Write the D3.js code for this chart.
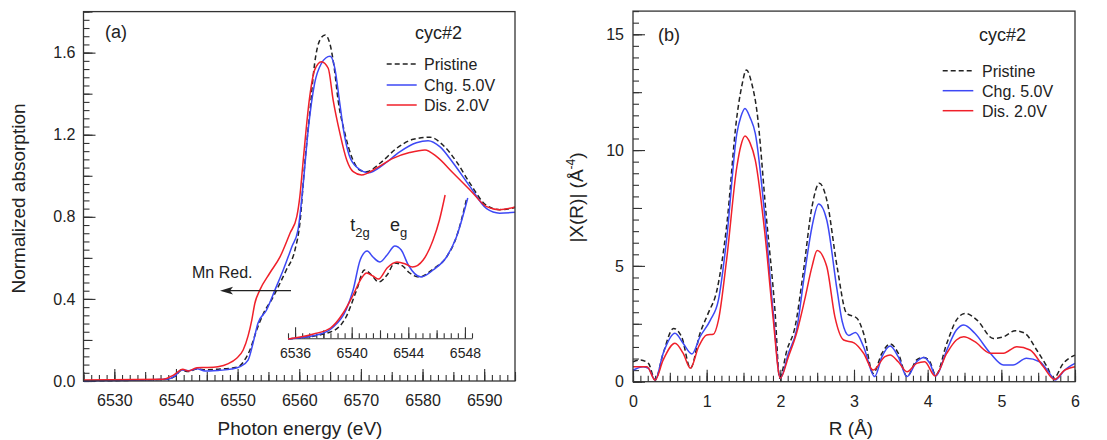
<!DOCTYPE html>
<html lang="en">
<head>
<meta charset="utf-8">
<title>XANES / EXAFS cyc#2</title>
<script src="https://d3js.org/d3.v7.min.js"></script>
<style>
  body { margin: 0; background: #fff; }
  svg { font-family: "Liberation Sans", Arial, sans-serif; }
  .tick text { fill: #222; }
  .tick line { stroke: #333; stroke-width: 1.1; }
</style>
</head>
<body>
<script>
// ---- data (a) Mn K-edge XANES: [photon energy eV, normalized absorption]
const xanesPristine = [[6525,0.0],[6538.5,0.008],[6539.8,0.022],[6540.9,0.052],[6542.0,0.046],[6543.4,0.058],[6545.0,0.055],[6547.1,0.058],[6549.3,0.064],[6550.4,0.075],[6551.2,0.105],[6552.0,0.151],[6553.1,0.249],[6554.2,0.330],[6555.8,0.411],[6556.6,0.460],[6557.9,0.541],[6559.3,0.638],[6560.1,0.768],[6560.9,1.061],[6561.7,1.305],[6562.5,1.548],[6563.35,1.662],[6564.2,1.686],[6565.0,1.640],[6565.7,1.520],[6566.3,1.369],[6567.4,1.207],[6568.5,1.093],[6569.8,1.028],[6570.9,1.020],[6573.1,1.061],[6575.8,1.134],[6578.5,1.178],[6581.2,1.188],[6583.3,1.150],[6585.5,1.069],[6587.7,0.963],[6590.4,0.855],[6592.5,0.835],[6595,0.845]];
const xanesChg = [[6525,0.0],[6538.5,0.008],[6539.8,0.024],[6540.9,0.054],[6542.0,0.050],[6543.4,0.060],[6544.7,0.049],[6545.5,0.049],[6547.1,0.052],[6549.0,0.058],[6550.4,0.070],[6551.7,0.102],[6552.5,0.184],[6553.3,0.281],[6554.7,0.346],[6556.05,0.443],[6557.4,0.541],[6558.8,0.654],[6559.8,0.736],[6560.6,0.947],[6561.45,1.223],[6562.5,1.451],[6563.6,1.548],[6564.3,1.574],[6565.0,1.582],[6565.8,1.520],[6566.5,1.370],[6567.2,1.220],[6568.1,1.100],[6569.4,1.040],[6571.2,1.015],[6573.6,1.053],[6576.3,1.117],[6579.0,1.161],[6580.9,1.171],[6582.8,1.142],[6585.0,1.061],[6587.7,0.947],[6590.4,0.840],[6592.5,0.818],[6595,0.822]];
const xanesDis = [[6525,0.005],[6537.9,0.008],[6539.6,0.029],[6541.1,0.057],[6542.0,0.049],[6543.4,0.065],[6545.0,0.066],[6546.8,0.070],[6548.5,0.085],[6549.8,0.110],[6550.9,0.151],[6551.7,0.220],[6552.3,0.297],[6552.8,0.379],[6553.6,0.443],[6555.2,0.525],[6556.9,0.606],[6558.5,0.720],[6559.6,0.801],[6560.1,0.900],[6560.6,1.061],[6561.7,1.386],[6562.5,1.516],[6563.6,1.556],[6564.7,1.524],[6565.5,1.369],[6566.6,1.207],[6567.7,1.077],[6568.75,1.020],[6570.1,1.004],[6572.5,1.037],[6575.2,1.085],[6577.9,1.113],[6580.4,1.126],[6582.3,1.093],[6585.0,1.012],[6587.7,0.931],[6590.4,0.850],[6592.5,0.835],[6595,0.848]];

// inset: pre-edge region (magnified)
const insetPristine = [[6535.5,0.004],[6538.5,0.011],[6539.6,0.026],[6540.35,0.053],[6540.9,0.073],[6541.4,0.068],[6541.9,0.061],[6542.5,0.068],[6543.05,0.080],[6543.6,0.077],[6544.1,0.070],[6544.8,0.066],[6545.75,0.074],[6546.7,0.086],[6547.4,0.106],[6548.1,0.143]];
const insetChg = [[6535.5,0.004],[6537.8,0.009],[6538.7,0.016],[6539.6,0.033],[6540.1,0.053],[6540.6,0.083],[6541.1,0.092],[6541.5,0.086],[6542.0,0.081],[6542.5,0.088],[6543.05,0.097],[6543.5,0.093],[6544.0,0.078],[6544.9,0.066],[6545.75,0.073],[6546.7,0.086],[6547.4,0.106],[6548.2,0.145]];
const insetDis = [[6535.5,0.004],[6537.3,0.009],[6538.5,0.015],[6539.4,0.030],[6540.1,0.048],[6540.7,0.065],[6541.05,0.070],[6541.5,0.067],[6541.9,0.064],[6542.5,0.075],[6543.2,0.081],[6543.8,0.079],[6544.3,0.076],[6545.05,0.083],[6545.75,0.103],[6546.2,0.123],[6546.6,0.148]];

// ---- data (b) FT magnitude: [R (A), |X(R)|]
const ftPristine = [[0,0.86],[0.095,0.94],[0.21,0.79],[0.30,0.07],[0.41,1.23],[0.55,2.3],[0.66,1.94],[0.78,0.58],[0.91,2.09],[1.02,2.95],[1.14,3.96],[1.27,6.69],[1.41,11.44],[1.475,12.74],[1.54,13.46],[1.61,12.9],[1.68,11.73],[1.81,7.12],[1.93,2.95],[1.99,0.15],[2.09,1.37],[2.20,2.37],[2.31,4.68],[2.43,7.56],[2.53,8.57],[2.63,7.85],[2.77,4.97],[2.90,2.95],[3.04,2.74],[3.13,2.09],[3.26,0.36],[3.38,1.23],[3.49,1.63],[3.60,1.23],[3.72,0.22],[3.85,0.94],[3.95,1.05],[4.03,0.86],[4.11,0.29],[4.26,1.66],[4.39,2.66],[4.51,2.95],[4.67,2.66],[4.89,1.87],[5.03,1.94],[5.19,2.20],[5.32,2.09],[5.48,1.37],[5.62,0.65],[5.71,0.15],[5.84,0.79],[6.0,1.15]];
const ftChg = [[0,0.5],[0.14,0.65],[0.21,0.58],[0.30,0.07],[0.41,1.23],[0.57,2.09],[0.68,1.66],[0.80,1.20],[0.91,1.94],[1.05,2.66],[1.16,3.53],[1.27,6.12],[1.41,10.72],[1.465,11.45],[1.52,11.80],[1.59,11.4],[1.66,10.72],[1.79,7.12],[1.90,3.10],[2.0,0.15],[2.11,1.23],[2.22,2.23],[2.33,4.68],[2.43,6.69],[2.52,7.67],[2.63,6.98],[2.77,3.96],[2.84,2.6],[2.93,2.0],[3.02,2.12],[3.13,1.51],[3.28,0.22],[3.38,1.08],[3.49,1.54],[3.60,1.08],[3.72,0.22],[3.85,0.86],[3.95,1.05],[4.03,0.79],[4.11,0.25],[4.26,1.37],[4.39,2.23],[4.49,2.45],[4.64,2.09],[4.85,1.23],[5.03,0.72],[5.16,0.72],[5.34,1.01],[5.52,0.86],[5.64,0.43],[5.73,0.07],[5.86,0.50],[6.0,0.79]];
const ftDis = [[0,0.65],[0.19,0.65],[0.30,0.07],[0.41,0.94],[0.57,1.66],[0.68,1.23],[0.78,0.58],[0.89,1.51],[1.0,2.02],[1.09,2.05],[1.16,2.66],[1.27,5.25],[1.41,9.28],[1.465,10.2],[1.52,10.61],[1.59,10.3],[1.66,9.57],[1.79,6.41],[1.90,2.81],[2.0,0.15],[2.11,1.08],[2.22,2.09],[2.33,3.53],[2.43,4.97],[2.50,5.66],[2.63,4.97],[2.74,2.81],[2.86,1.80],[3.0,1.68],[3.13,1.23],[3.26,0.50],[3.42,1.08],[3.49,1.15],[3.60,0.86],[3.72,0.43],[3.85,0.79],[3.96,0.86],[4.10,0.25],[4.26,1.23],[4.39,1.80],[4.49,1.94],[4.64,1.73],[4.85,1.23],[5.03,1.23],[5.21,1.51],[5.39,1.37],[5.57,0.65],[5.72,0.10],[5.86,0.50],[6.0,0.65]];

const legendLabels = ["Pristine", "Chg. 5.0V", "Dis. 2.0V"];
const xTicksA = [6530, 6540, 6550, 6560, 6570, 6580, 6590];
const yTicksA = [0.0, 0.4, 0.8, 1.2, 1.6];
const xTicksInset = [6536, 6540, 6544, 6548];
const xTicksB = [0, 1, 2, 3, 4, 5, 6];
const yTicksB = [0, 5, 10, 15];

const colors = ["#222", "#3d48f5", "#f0202a"];
const dashes = ["5,3", null, null];

const svg = d3.select("body").append("svg").attr("width", 1107).attr("height", 440);

// scales
const xA = d3.scaleLinear().domain([6525, 6595]).range([83.5, 515]);
const yA = d3.scaleLinear().domain([0, 1.8]).range([381, 11.6]);
const xI = d3.scaleLinear().domain([6535.5, 6548.5]).range([288, 472]);
const yI = d3.scaleLinear().domain([0, 0.15]).range([343, 193]);
const xB = d3.scaleLinear().domain([0, 6]).range([633, 1075]);
const yB = d3.scaleLinear().domain([0, 16]).range([381.7, 11.1]);

function steps(a, b, s) {
  let n = Math.round((b - a) / s);
  return d3.range(n + 1).map(i => +(a + i * s).toFixed(4));
}

// draw inward ticks: minor, mid, labelled
function axisSet(axisFn, scale, y0, x0, minor, mid, major, fmt, pad, fs) {
  let t = x0 != null ? `translate(${x0},0)` : `translate(0,${y0})`;
  [[minor, 6], [mid, 9], [major, 12]].forEach(([vals, len], k) => {
    let g = svg.append("g").attr("transform", t)
      .call(axisFn(scale).tickValues(vals).tickSize(-len)
        .tickFormat(k == 2 ? fmt : "").tickPadding(pad));
    g.select(".domain").remove();
    g.selectAll("text").attr("font-size", fs);
  });
}

function frame(x, y) {
  svg.append("rect")
    .attr("x", x.range()[0]).attr("y", y.range()[1])
    .attr("width", x.range()[1] - x.range()[0])
    .attr("height", y.range()[0] - y.range()[1])
    .attr("fill", "none").attr("stroke", "#333").attr("stroke-width", 1.3);
}

function curves(series, x, y) {
  let line = d3.line().x(d => x(d[0])).y(d => y(d[1])).curve(d3.curveMonotoneX);
  series.forEach((s, i) => {
    svg.append("path").datum(s)
      .attr("d", line)
      .attr("fill", "none")
      .attr("stroke", colors[i])
      .attr("stroke-width", 1.5)
      .attr("stroke-dasharray", dashes[i]);
  });
}

function legend(x1, x2, tx, ys) {
  legendLabels.forEach((lab, i) => {
    svg.append("line").attr("x1", x1).attr("x2", x2).attr("y1", ys[i]).attr("y2", ys[i])
      .attr("stroke", colors[i]).attr("stroke-width", 1.5).attr("stroke-dasharray", dashes[i]);
    svg.append("text").attr("x", tx).attr("y", ys[i] + 6).attr("font-size", 16)
      .attr("fill", "#222").text(lab);
  });
}

function txt(x, y, s, size, anchor) {
  return svg.append("text").attr("x", x).attr("y", y).attr("font-size", size)
    .attr("text-anchor", anchor || "start").attr("fill", "#222").text(s);
}

// ---------- panel (a)
axisSet(d3.axisBottom, xA, 381, null, steps(6525, 6595, 1.25), steps(6525, 6595, 5), xTicksA, d3.format("d"), 13.5, 16);
axisSet(d3.axisLeft, yA, null, 83.5, steps(0, 1.8, 0.04), steps(0, 1.8, 0.2), yTicksA, d3.format(".1f"), 8, 16);
curves([xanesPristine, xanesChg, xanesDis], xA, yA);
frame(xA, yA);

// inset axis
let gi = svg.append("g").attr("transform", "translate(0,338.3)");
gi.call(d3.axisBottom(xI).tickValues(steps(6535.5, 6548.5, 0.5)).tickSize(-5).tickSizeOuter(0).tickFormat(""));
gi.select(".domain").attr("stroke", "#333").attr("stroke-width", 1.1);
let gi2 = svg.append("g").attr("transform", "translate(0,338.3)")
  .call(d3.axisBottom(xI).tickValues(xTicksInset).tickSize(-11).tickPadding(10).tickFormat(d3.format("d")));
gi2.select(".domain").remove();
gi2.selectAll("text").attr("font-size", 14);
let gi3 = svg.append("g").attr("transform", "translate(0,338.3)")
  .call(d3.axisBottom(xI).tickValues([6538, 6542, 6546]).tickSize(-8).tickFormat(""));
gi3.select(".domain").remove();
curves([insetPristine, insetChg, insetDis], xI, yI);

// annotations
let t1 = txt(xI(6539.9), 231, "t", 18);
t1.append("tspan").attr("font-size", 13).attr("dy", 6).text("2g");
let t2 = txt(xI(6542.7), 231, "e", 18);
t2.append("tspan").attr("font-size", 13).attr("dy", 6).text("g");
txt(192, 277.5, "Mn Red.", 16);
svg.append("line").attr("x1", 291).attr("x2", 228).attr("y1", 290.7).attr("y2", 290.7)
  .attr("stroke", "#222").attr("stroke-width", 1.3);
svg.append("path").attr("d", "M220,290.7 L233,286.8 L230,290.7 L233,294.6 Z").attr("fill", "#222");

txt(105, 38, "(a)", 18);
txt(415, 39, "cyc#2", 18);
legend(386.7, 416.7, 424, [64, 85, 105]);
txt(300, 435, "Photon energy (eV)", 19, "middle");
svg.append("text").attr("transform", "translate(18.3,198.5) rotate(-90)")
  .attr("dy", "0.35em").attr("text-anchor", "middle").attr("font-size", 19).attr("fill", "#222")
  .text("Normalized absorption");

// ---------- panel (b)
axisSet(d3.axisBottom, xB, 381.7, null, steps(0, 6, 0.1), steps(0, 6, 0.5), xTicksB, d3.format("d"), 13.5, 16);
axisSet(d3.axisLeft, yB, null, 633, steps(0, 16, 0.5), steps(0, 16, 2.5), yTicksB, d3.format("d"), 9, 16);
curves([ftPristine, ftChg, ftDis], xB, yB);
frame(xB, yB);

txt(658, 41, "(b)", 18);
txt(979, 41, "cyc#2", 18);
legend(942.7, 973.3, 982, [70.7, 90.7, 110.7]);
txt(851, 435, "R (Å)", 19, "middle");
let yt = svg.append("text").attr("transform", "translate(576.7,197.5) rotate(-90)")
  .attr("dy", "0.35em").attr("text-anchor", "middle").attr("font-size", 19).attr("fill", "#222")
  .text("|X(R)| (Å");
yt.append("tspan").attr("font-size", 12).attr("dy", -8).text("-4");
yt.append("tspan").attr("dy", 8).text(")");
</script>
</body>
</html>
